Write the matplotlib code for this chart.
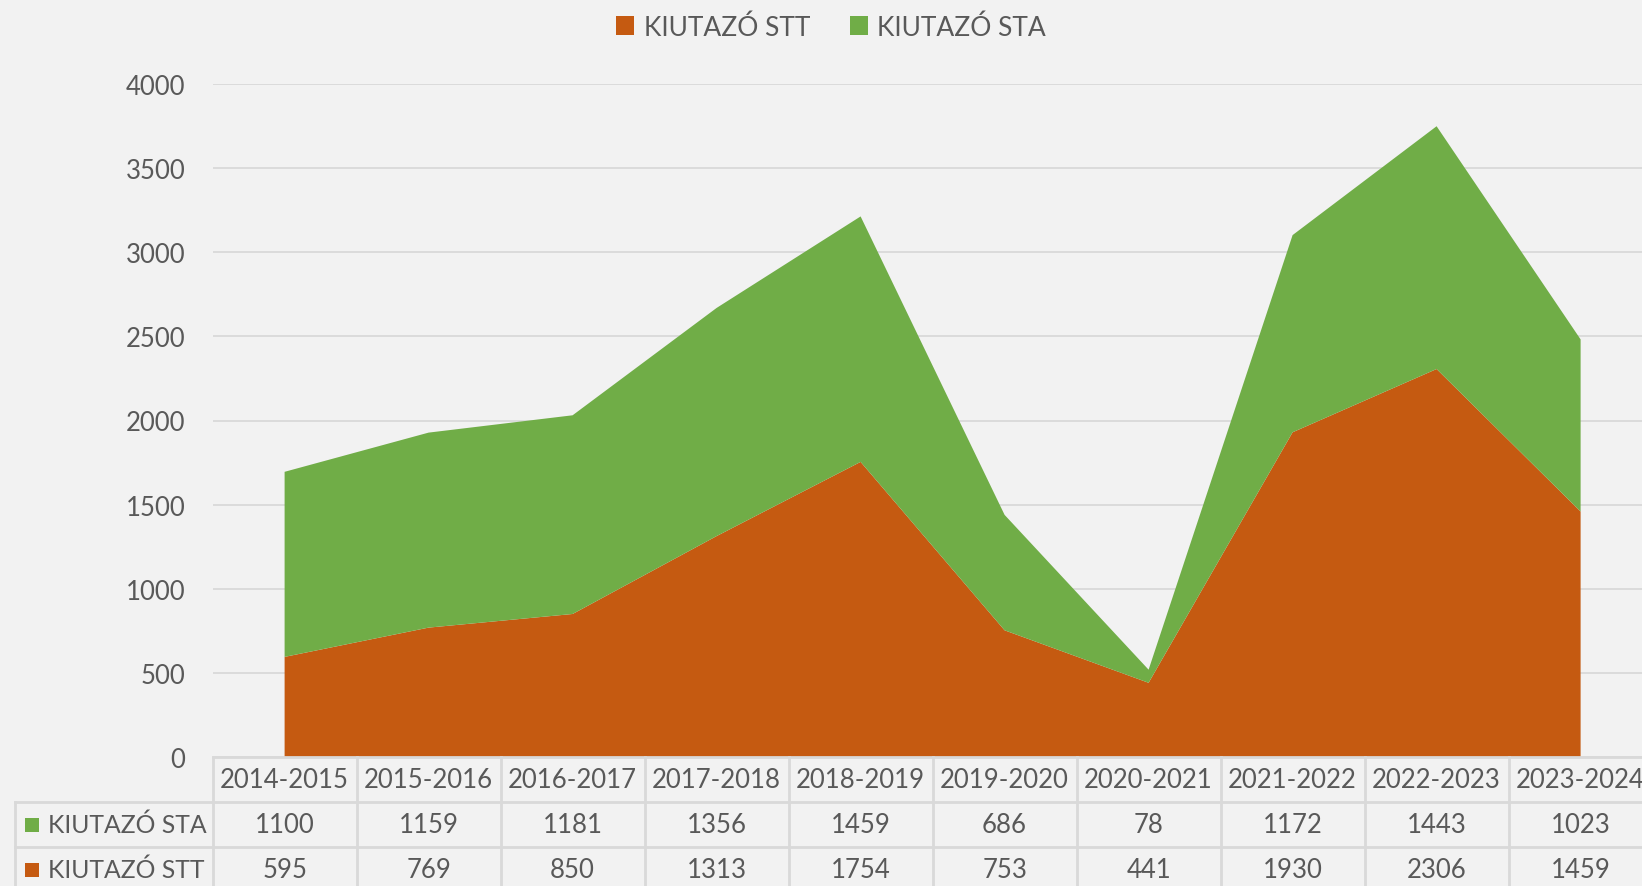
import matplotlib
matplotlib.use('Agg')
import matplotlib.pyplot as plt
from matplotlib.patches import Patch, Rectangle

categories = ['2014-2015', '2015-2016', '2016-2017', '2017-2018', '2018-2019',
              '2019-2020', '2020-2021', '2021-2022', '2022-2023', '2023-2024']
sta = [1100, 1159, 1181, 1356, 1459, 686, 78, 1172, 1443, 1023]
stt = [595, 769, 850, 1313, 1754, 753, 441, 1930, 2306, 1459]
name_stt = 'KIUTAZÓ STT'
name_sta = 'KIUTAZÓ STA'

ORANGE = '#C55A11'
GREEN = '#70AD47'
BG = '#F2F2F2'
TXT = '#595959'
GRID = '#D9D9D9'

plt.rcParams['font.family'] = ['Lato', 'DejaVu Sans']
W, H = 1642, 887
fig = plt.figure(figsize=(W / 100, H / 100), dpi=100, facecolor=BG)
ax_l, ax_b, ax_w, ax_h = 212.6, 129, 1440, 673
ax = fig.add_axes([ax_l / W, ax_b / H, ax_w / W, ax_h / H])
ax.set_facecolor(BG)

x = list(range(len(categories)))
ax.stackplot(x, stt, sta, colors=[ORANGE, GREEN], linewidth=0)
ax.set_xlim(-0.5, len(categories) - 0.5)
ax.set_ylim(0, 4000)
ax.set_yticks(range(0, 4001, 500))
ax.tick_params(axis='y', length=0, pad=19.5, labelsize=18.5, labelcolor=TXT)
ax.set_xticks([])
ax.grid(axis='y', color=GRID, linewidth=1.3)
ax.set_axisbelow(True)
for s in ax.spines.values():
    s.set_visible(False)

# data table
row_h = 45 / ax_h
lab_left = (14.7 - ax_l) / ax_w
xt = ax.get_xaxis_transform()
lw = 2
ax.plot([-0.5, len(categories) - 0.5], [0, 0], color=GRID, lw=lw, transform=xt, clip_on=False)
for r in (1, 2, 3):
    ax.plot([lab_left, 1.0], [-r * row_h] * 2, color=GRID, lw=lw, transform=ax.transAxes, clip_on=False)
for k in range(len(categories) + 1):
    ax.plot([k - 0.5] * 2, [0, -3 * row_h], color=GRID, lw=lw, transform=xt, clip_on=False)
ax.plot([lab_left] * 2, [-row_h, -3 * row_h], color=GRID, lw=lw, transform=ax.transAxes, clip_on=False)

fs = 18.5
for i, c in enumerate(categories):
    ax.text(i, -0.5 * row_h, c, ha='center', va='center', fontsize=fs, color=TXT, transform=xt, clip_on=False)
    ax.text(i, -1.5 * row_h, str(sta[i]), ha='center', va='center', fontsize=fs, color=TXT, transform=xt, clip_on=False)
    ax.text(i, -2.5 * row_h, str(stt[i]), ha='center', va='center', fontsize=fs, color=TXT, transform=xt, clip_on=False)

sq_x = (25 - ax_l) / ax_w
txt_x = (48 - ax_l) / ax_w
sq_w = 14 / ax_w
sq_h = 14 / ax_h
for r, (nm, col) in enumerate([(name_sta, GREEN), (name_stt, ORANGE)]):
    yc = -(1.5 + r) * row_h
    ax.add_patch(Rectangle((sq_x, yc - sq_h / 2), sq_w, sq_h, facecolor=col, edgecolor='none',
                           transform=ax.transAxes, clip_on=False))
    ax.text(txt_x, yc, nm, ha='left', va='center', fontsize=17.8, color=TXT, transform=ax.transAxes, clip_on=False)

handles = [Patch(facecolor=ORANGE, edgecolor='none', label=name_stt),
           Patch(facecolor=GREEN, edgecolor='none', label=name_sta)]
leg = fig.legend(handles=handles, loc='center', bbox_to_anchor=(831 / W, 1 - 28 / H), ncol=2,
                 frameon=False, fontsize=19, handlelength=0.7, handleheight=0.7,
                 handletextpad=0.35, columnspacing=1.5, borderaxespad=0)
for t in leg.get_texts():
    t.set_color(TXT)

fig.savefig('out.png', dpi=100, facecolor=BG)
